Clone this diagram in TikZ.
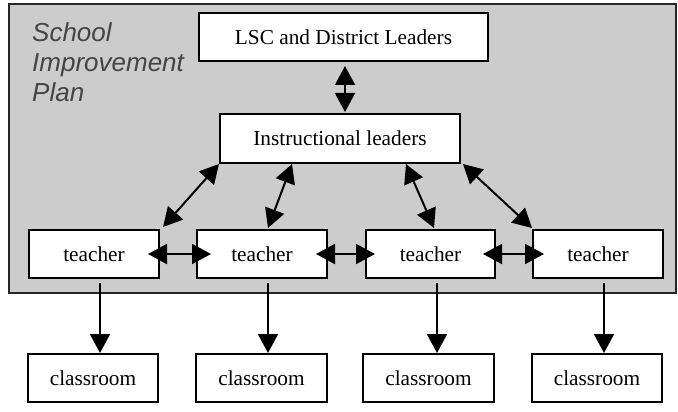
\documentclass[tikz,border=0pt]{standalone}
\usepackage{fontspec}
\setmainfont{Liberation Serif}
\newfontfamily\planfont{Liberation Sans}
\usetikzlibrary{arrows.meta}
\definecolor{planfill}{HTML}{CCCCCC}
\definecolor{plantext}{HTML}{444444}
\begin{document}
\begin{tikzpicture}[x=1pt,y=-1pt,
  box/.style={draw=black,line width=2pt,fill=white,inner sep=0pt,minimum height=48pt,font=\fontsize{21.3}{24}\selectfont},
  tbox/.style={box,minimum width=130pt},
  link/.style={line width=2pt,{Triangle[length=19pt,width=20pt]}-{Triangle[length=19pt,width=20pt]}},
  down/.style={line width=2pt,-{Triangle[length=19pt,width=20pt]}}]
\useasboundingbox (0,0) rectangle (678,412);
\node[draw=black!85,line width=1.5pt,fill=planfill,inner sep=0pt,minimum width=667pt,minimum height=289pt] (plan) at (342.5,148.5) {};
\node[anchor=base west,inner sep=0pt,align=left,text=plantext,font=\planfont\itshape\fontsize{26}{30}\selectfont] (title) at (32,102) {School\\Improvement\\Plan};
\node[box,minimum width=289pt] (lsc) at (343.5,37) {LSC and District Leaders};
\node[box,minimum width=240pt,minimum height=49pt] (il) at (340,138.5) {Instructional leaders};
\node[tbox] (t1) at (94,254) {teacher};
\node[tbox] (t2) at (262,254) {teacher};
\node[tbox,minimum width=129pt] (t3) at (430.5,254) {teacher};
\node[tbox] (t4) at (598,254) {teacher};
\node[tbox] (c1) at (93,378) {classroom};
\node[tbox,minimum width=131pt] (c2) at (261.5,378) {classroom};
\node[tbox,minimum width=131pt] (c3) at (428.5,378) {classroom};
\node[tbox] (c4) at (597,378) {classroom};
% vertical link
\draw[link] ([xshift=1.5pt,yshift=-4pt]lsc.south) -- ([xshift=5pt,yshift=1pt]il.north);
% diagonal links
\draw[link] ([xshift=3pt,yshift=2pt]t1.north east) -- (il.south west);
\draw[link] ([xshift=6pt,yshift=1pt]t2.north) -- ([xshift=73pt]il.south west);
\draw[link] ([xshift=3.5pt,yshift=1pt]t3.north) -- ([xshift=-55pt]il.south east);
\draw[link] ([yshift=1pt]t4.north west) -- ([xshift=2pt]il.south east);
% horizontal links
\draw[link] ([xshift=-12pt]t1.east) -- ([xshift=15pt]t2.west);
\draw[link] ([xshift=-12pt]t2.east) -- ([xshift=10pt]t3.west);
\draw[link] ([xshift=-13pt]t3.east) -- ([xshift=12pt]t4.west);
% down arrows
\draw[down] ([xshift=6pt,yshift=-4pt]t1.south) -- ([xshift=7pt]c1.north);
\draw[down] ([xshift=6pt,yshift=-4pt]t2.south) -- ([xshift=6.5pt]c2.north);
\draw[down] ([xshift=6.5pt,yshift=-4pt]t3.south) -- ([xshift=8.5pt]c3.north);
\draw[down] ([xshift=6pt,yshift=-4pt]t4.south) -- ([xshift=7pt]c4.north);
\end{tikzpicture}
\end{document}
